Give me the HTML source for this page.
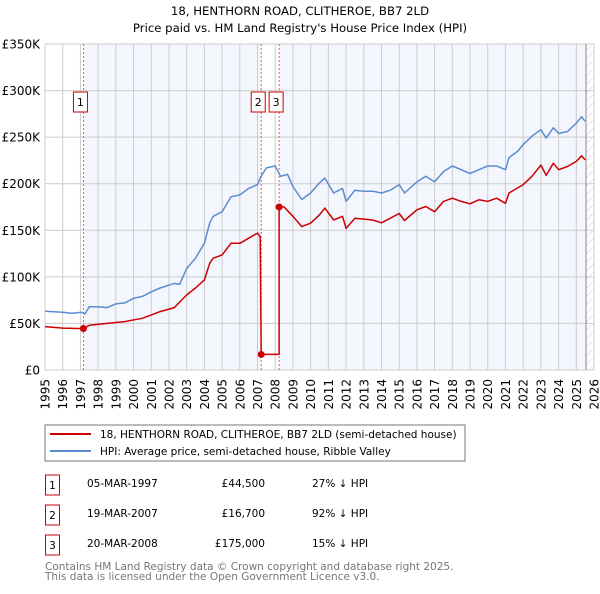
<!DOCTYPE html>
<html><head><meta charset="utf-8"><style>
body{margin:0;background:#fff;font-family:"DejaVu Sans","Liberation Sans",sans-serif;}
svg text{font-family:"DejaVu Sans","Liberation Sans",sans-serif;}
</style></head><body>
<svg id="chart" width="600" height="590" xmlns="http://www.w3.org/2000/svg">
<defs><pattern id="hatch" width="6" height="6" patternUnits="userSpaceOnUse" patternTransform="rotate(45)"><line x1="0" y1="0" x2="0" y2="6" stroke="#ccc" stroke-width="1"/></pattern></defs>
<text x="300" y="15" text-anchor="middle" font-size="11.7" fill="#000">18, HENTHORN ROAD, CLITHEROE, BB7 2LD</text>
<text x="300" y="32" text-anchor="middle" font-size="11.7" fill="#000">Price paid vs. HM Land Registry's House Price Index (HPI)</text>
<g id="plot"></g>
<rect x="45" y="425" width="420" height="36" fill="#fff" stroke="#777"/>
<line x1="50" y1="434" x2="91" y2="434" stroke="#cc0000" stroke-width="2"/>
<text x="100" y="438" font-size="10.5">18, HENTHORN ROAD, CLITHEROE, BB7 2LD (semi-detached house)</text>
<line x1="50" y1="451" x2="91" y2="451" stroke="#5b8bd0" stroke-width="2"/>
<text x="100" y="455" font-size="10.5">HPI: Average price, semi-detached house, Ribble Valley</text>
<g font-size="10.5">
<rect x="45.5" y="475" width="14" height="20" fill="#fff" stroke="#cc0000"/><text x="52.5" y="489" text-anchor="middle">1</text>
<text x="87" y="487">05-MAR-1997</text><text x="265" y="487" text-anchor="end">£44,500</text><text x="312" y="487">27% ↓ HPI</text>
<rect x="45.5" y="505" width="14" height="20" fill="#fff" stroke="#cc0000"/><text x="52.5" y="519" text-anchor="middle">2</text>
<text x="87" y="517">19-MAR-2007</text><text x="265" y="517" text-anchor="end">£16,700</text><text x="312" y="517">92% ↓ HPI</text>
<rect x="45.5" y="535" width="14" height="20" fill="#fff" stroke="#cc0000"/><text x="52.5" y="549" text-anchor="middle">3</text>
<text x="87" y="547">20-MAR-2008</text><text x="265" y="547" text-anchor="end">£175,000</text><text x="312" y="547">15% ↓ HPI</text>
</g>
<text x="45" y="570" font-size="10.5" fill="#777">Contains HM Land Registry data © Crown copyright and database right 2025.</text>
<text x="45" y="580" font-size="10.5" fill="#777">This data is licensed under the Open Government Licence v3.0.</text>
</svg>
<script>
const yTicks=[0,50000,100000,150000,200000,250000,300000,350000];
const yTickLabels=["£0","£50K","£100K","£150K","£200K","£250K","£300K","£350K"];
const xYears=[1995,1996,1997,1998,1999,2000,2001,2002,2003,2004,2005,2006,2007,2008,2009,2010,2011,2012,2013,2014,2015,2016,2017,2018,2019,2020,2021,2022,2023,2024,2025,2026];
const saleDates=[1997.17,2007.21,2008.22];
const salePrices=[44500,16700,175000];
const saleLabels=["1","2","3"];
const hpiT=[1995,1996,1996.5,1997.1,1997.25,1997.5,1998,1998.5,1999,1999.5,2000,2000.5,2001,2001.5,2002,2002.3,2002.6,2003,2003.5,2004,2004.3,2004.5,2005,2005.5,2006,2006.5,2007,2007.2,2007.5,2008,2008.3,2008.7,2009,2009.5,2010,2010.5,2010.8,2011.3,2011.8,2012,2012.5,2013,2013.5,2014,2014.5,2015,2015.3,2016,2016.5,2017,2017.5,2018,2018.5,2019,2019.5,2020,2020.5,2021,2021.2,2021.7,2022,2022.5,2023,2023.3,2023.7,2024,2024.5,2025,2025.3,2025.5];
const hpiV=[63000,62000,61000,62000,60000,68000,68000,67000,71000,72000,77000,79000,84000,88000,91000,93000,92000,109000,120000,136000,158000,165000,170000,186000,188000,195000,199000,208000,217000,219000,208000,210000,197000,183000,190000,201000,206000,190000,195000,181000,193000,192000,192000,190000,193000,199000,190000,202000,208000,202000,213000,219000,215000,211000,215000,219000,219000,215000,228000,235000,242000,251000,258000,249000,260000,254000,256000,265000,272000,267000];
const priceT=[1995,1996,1997.17,1997.5,1998.5,1999.5,2000.5,2001.5,2002.3,2003,2003.5,2004,2004.3,2004.5,2005,2005.5,2006,2006.5,2007,2007.15,2007.21,2008.22,2008.22,2008.5,2009,2009.5,2010,2010.5,2010.8,2011.3,2011.8,2012,2012.5,2013.5,2014,2014.5,2015,2015.3,2016,2016.5,2017,2017.5,2018,2018.5,2019,2019.5,2020,2020.5,2021,2021.2,2022,2022.5,2023,2023.3,2023.7,2024,2024.5,2025,2025.3,2025.5];
const priceV=[46600,45000,44500,48000,50000,52000,55500,62700,67000,80600,88000,96700,114700,120000,123600,136000,136000,141500,147000,143000,16700,16700,175000,175000,165000,154000,157600,166600,173800,161000,165000,152000,163000,161000,158000,163000,168000,160500,172000,175500,170000,181000,184500,181000,178400,182700,181000,184500,179000,190000,199000,208000,220000,209000,222000,215000,218500,224000,230000,225600];

const NS="http://www.w3.org/2000/svg";
const L=45,R=594,T=44,B=370,X0=1995,X1=2026,YMAX=350000,DATA_END=2025.55;
const xs=t=>L+(t-X0)/(X1-X0)*(R-L);
const ys=v=>B-v/YMAX*(B-T);
const g=document.getElementById('plot');
function mk(tag,attrs){const e=document.createElementNS(NS,tag);for(const k in attrs)e.setAttribute(k,attrs[k]);g.appendChild(e);return e;}

let r=mk('rect',{x:L,y:T,width:R-L,height:B-T,fill:'#fff'});


r=mk('rect',{x:xs(saleDates[0]),y:T,width:xs(saleDates[1])-xs(saleDates[0]),height:B-T,fill:'#f3f6fd'});


r=mk('rect',{x:xs(saleDates[2]),y:T,width:xs(DATA_END)-xs(saleDates[2]),height:B-T,fill:'#f3f6fd'});


r=mk('rect',{x:xs(DATA_END),y:T,width:R-xs(DATA_END),height:B-T,fill:'url(#hatch)'});



xYears.forEach(y=>{
  const l=mk('line',{x1:xs(y),x2:xs(y),y1:T,y2:B,stroke:'#ccc','stroke-width':1});
  
  
  const t=mk('text',{x:0,y:0,'font-size':12,'text-anchor':'end',transform:`translate(${xs(y)+4.5},379) rotate(-90)`});
  t.textContent=y;
  
  
});
yTicks.forEach((v,i)=>{
  const l=mk('line',{x1:L,x2:R,y1:ys(v),y2:ys(v),stroke:'#ccc','stroke-width':1});
  
  
  const t=mk('text',{x:40,y:ys(v)+4.5,'font-size':12,'text-anchor':'end'});
  t.textContent=yTickLabels[i];
  
  
});
let el=mk('line',{x1:xs(DATA_END),x2:xs(DATA_END),y1:T,y2:B,stroke:'#888','stroke-width':1});



saleDates.forEach((d,i)=>{
  const l=mk('line',{x1:xs(d),x2:xs(d),y1:T,y2:B,stroke:'#e06060','stroke-width':1,'stroke-dasharray':'2,2'});
  
  
});

const pts=(ts,vs)=>ts.map((t,i)=>xs(t).toFixed(1)+','+ys(vs[i]).toFixed(1)).join(' ');
let p=mk('polyline',{points:pts(hpiT,hpiV),fill:'none',stroke:'#5b8bd0','stroke-width':1.5,'stroke-linejoin':'round'});


p=mk('polyline',{points:pts(priceT,priceV),fill:'none',stroke:'#cc0000','stroke-width':1.5,'stroke-linejoin':'round'});



saleDates.forEach((d,i)=>{
  const c=mk('circle',{cx:xs(d),cy:ys(salePrices[i]),r:3.5,fill:'#cc0000'});
  
  
  const bx=mk('rect',{x:xs(d)-10,y:92,width:14,height:20,fill:'#fff',stroke:'#cc0000'});
  
  
  const t=mk('text',{x:xs(d)-3,y:106,'font-size':11,'text-anchor':'middle'});
  t.textContent=saleLabels[i];
  
  
});
</script>
</body></html>
